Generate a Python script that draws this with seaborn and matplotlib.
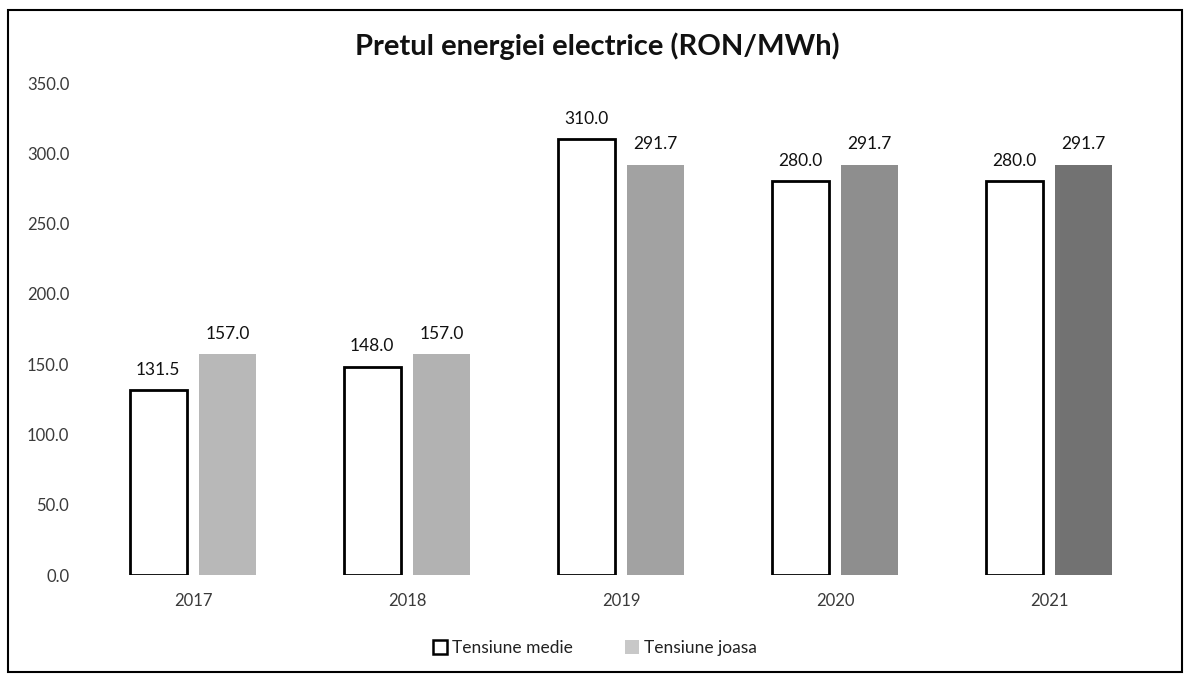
import matplotlib
matplotlib.use("Agg")
import matplotlib.pyplot as plt
import seaborn as sns
import pandas as pd
from matplotlib.patches import Rectangle, Patch

years = ["2017", "2018", "2019", "2020", "2021"]
tensiune_medie = [131.5, 148.0, 310.0, 280.0, 280.0]
tensiune_joasa = [157.0, 157.0, 291.7, 291.7, 291.7]
series_names = ["Tensiune medie", "Tensiune joasa"]
title = "Pretul energiei electrice (RON/MWh)"
y_ticks = [0, 50, 100, 150, 200, 250, 300, 350]

df = pd.DataFrame({
    "An": years * 2,
    "Pret": tensiune_medie + tensiune_joasa,
    "Serie": [series_names[0]] * len(years) + [series_names[1]] * len(years),
})

sns.set_theme(style="white")
plt.rcParams["font.family"] = ["Lato", "DejaVu Sans"]

W, H = 1188, 677
fig = plt.figure(figsize=(W / 100, H / 100), dpi=100)
ax = fig.add_axes([86 / W, 1 - 575 / H, (1156 - 86) / W, (575 - 83) / H])

sns.barplot(data=df, x="An", y="Pret", hue="Serie", order=years,
            hue_order=series_names, palette=["white", "#a8a8a8"],
            width=0.65, gap=0.18, ax=ax, legend=False, saturation=1)

joasa_shades = ["#b8b8b8", "#b2b2b2", "#a2a2a2", "#8e8e8e", "#727272"]
for bar in ax.containers[0]:
    bar.set_facecolor("white")
    bar.set_edgecolor("black")
    bar.set_linewidth(2.0)
for bar, c in zip(ax.containers[1], joasa_shades):
    bar.set_facecolor(c)
    bar.set_edgecolor("none")

for cont in ax.containers:
    ax.bar_label(cont, fmt="%.1f", padding=9, fontsize=12.5, color="#111111")

ax.set_ylim(0, 350)
ax.set_xlim(-0.5, len(years) - 0.5)
ax.set_yticks(y_ticks)
ax.set_yticklabels([f"{v:.1f}" for v in y_ticks])
ax.tick_params(axis="y", length=0, pad=12, labelsize=12, labelcolor="#3a3a3a")
ax.tick_params(axis="x", length=0, pad=13, labelsize=12, labelcolor="#3a3a3a")
ax.set_xlabel("")
ax.set_ylabel("")
for s in ax.spines.values():
    s.set_visible(False)

fig.text(597 / W, 1 - 46 / H, title, ha="center", va="center",
         fontsize=21, fontweight="bold", color="#111111")

handles = [Patch(facecolor="white", edgecolor="black", linewidth=1.8),
           Patch(facecolor="#c8c8c8", edgecolor="none")]
fig.legend(handles, series_names, loc="center", bbox_to_anchor=(595 / W, 1 - 648 / H),
           ncol=2, frameon=False, fontsize=12.5, handlelength=0.8, handleheight=0.8,
           handletextpad=0.3, columnspacing=3.0, labelcolor="#222222")

fig.patches.append(Rectangle((8 / W, 1 - 672 / H), (1182 - 8) / W, (672 - 10) / H,
                             transform=fig.transFigure, fill=False,
                             edgecolor="black", linewidth=1.5))

fig.savefig("out.png", dpi=100, facecolor="white")
